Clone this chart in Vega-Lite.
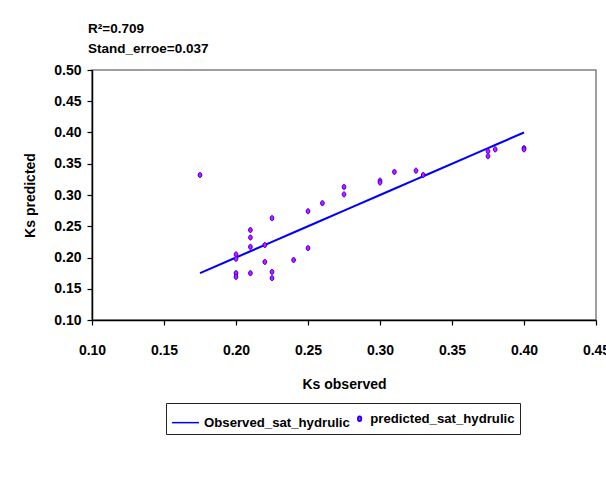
{
  "$schema": "https://vega.github.io/schema/vega-lite/v6.json",
  "width": 504,
  "height": 250,
  "autosize": {"type": "none"},
  "padding": {"left": 92, "top": 70, "right": 10, "bottom": 162},
  "background": "white",
  "title": {
    "text": ["R²=0.709", "Stand_erroe=0.037"],
    "anchor": "start",
    "frame": "group",
    "align": "left",
    "offset": 8,
    "dx": -4,
    "lineHeight": 20,
    "font": "Liberation Sans",
    "fontSize": 13.5,
    "fontWeight": "bold",
    "color": "black"
  },
  "config": {
    "view": {"stroke": "#808080", "strokeWidth": 1.5},
    "axis": {
      "grid": false,
      "domainColor": "black",
      "domainWidth": 1.5,
      "tickColor": "black",
      "tickWidth": 1.2,
      "tickSize": 5,
      "labelOverlap": false,
      "labelFont": "Liberation Sans",
      "labelFontSize": 14,
      "labelFontWeight": "bold",
      "labelColor": "black",
      "titleFont": "Liberation Sans",
      "titleFontSize": 14,
      "titleFontWeight": "bold",
      "titleColor": "black"
    },
    "legend": {
      "labelFont": "Liberation Sans",
      "labelFontSize": 13.2,
      "labelFontWeight": "bold",
      "labelColor": "black",
      "labelLimit": 300
    }
  },
  "data": {
    "values": [
      {"ks_observed": 0.175, "ks_predicted": 0.332},
      {"ks_observed": 0.20, "ks_predicted": 0.205},
      {"ks_observed": 0.20, "ks_predicted": 0.198},
      {"ks_observed": 0.20, "ks_predicted": 0.175},
      {"ks_observed": 0.20, "ks_predicted": 0.169},
      {"ks_observed": 0.21, "ks_predicted": 0.244},
      {"ks_observed": 0.21, "ks_predicted": 0.232},
      {"ks_observed": 0.21, "ks_predicted": 0.217},
      {"ks_observed": 0.21, "ks_predicted": 0.175},
      {"ks_observed": 0.22, "ks_predicted": 0.220},
      {"ks_observed": 0.22, "ks_predicted": 0.193},
      {"ks_observed": 0.225, "ks_predicted": 0.263},
      {"ks_observed": 0.225, "ks_predicted": 0.177},
      {"ks_observed": 0.225, "ks_predicted": 0.167},
      {"ks_observed": 0.24, "ks_predicted": 0.196},
      {"ks_observed": 0.25, "ks_predicted": 0.274},
      {"ks_observed": 0.25, "ks_predicted": 0.215},
      {"ks_observed": 0.26, "ks_predicted": 0.287},
      {"ks_observed": 0.275, "ks_predicted": 0.313},
      {"ks_observed": 0.275, "ks_predicted": 0.301},
      {"ks_observed": 0.30, "ks_predicted": 0.323},
      {"ks_observed": 0.30, "ks_predicted": 0.320},
      {"ks_observed": 0.31, "ks_predicted": 0.337},
      {"ks_observed": 0.325, "ks_predicted": 0.339},
      {"ks_observed": 0.33, "ks_predicted": 0.332},
      {"ks_observed": 0.375, "ks_predicted": 0.370},
      {"ks_observed": 0.375, "ks_predicted": 0.362},
      {"ks_observed": 0.38, "ks_predicted": 0.373},
      {"ks_observed": 0.40, "ks_predicted": 0.375},
      {"ks_observed": 0.40, "ks_predicted": 0.373}
    ]
  },
  "encoding": {
    "x": {
      "field": "ks_observed",
      "type": "quantitative",
      "title": "Ks observed",
      "scale": {"domain": [0.10, 0.45], "nice": false, "zero": false},
      "axis": {"values": [0.10, 0.15, 0.20, 0.25, 0.30, 0.35, 0.40, 0.45], "format": ".2f", "labelPadding": 18, "titlePadding": 20, "labelFlush": false}
    }
  },
  "layer": [
    {
      "transform": [{"calculate": "'Observed_sat_hydrulic'", "as": "series"}],
      "mark": {"type": "line", "strokeWidth": 2},
      "encoding": {
        "y": {
          "field": "ks_observed",
          "type": "quantitative",
          "title": "Ks predicted",
          "scale": {"domain": [0.10, 0.50], "nice": false, "zero": false},
          "axis": {"values": [0.10, 0.15, 0.20, 0.25, 0.30, 0.35, 0.40, 0.45, 0.50], "format": ".2f", "labelPadding": 6, "titlePadding": 16, "labelFlush": false, "labelOverlap": false}
        },
        "stroke": {
          "field": "series",
          "type": "nominal",
          "title": null,
          "scale": {"domain": ["Observed_sat_hydrulic", "predicted_sat_hydrulic"], "range": ["#0000FF", "#0000FF"]},
          "legend": {"orient": "none", "legendX": 74, "legendY": 333, "direction": "horizontal", "strokeColor": "#222222", "padding": 5, "symbolStrokeWidth": 1.5, "labelOffset": 4, "columnPadding": 3}
        }
      }
    },
    {
      "transform": [{"calculate": "'predicted_sat_hydrulic'", "as": "series"}],
      "mark": {"type": "point", "filled": true, "strokeWidth": 1, "opacity": 1},
      "encoding": {
        "y": {
          "field": "ks_predicted",
          "type": "quantitative",
          "title": "Ks predicted",
          "scale": {"domain": [0.10, 0.50], "nice": false, "zero": false},
          "axis": {"values": [0.10, 0.15, 0.20, 0.25, 0.30, 0.35, 0.40, 0.45, 0.50], "format": ".2f", "labelPadding": 6, "titlePadding": 16, "labelFlush": false, "labelOverlap": false}
        },
        "stroke": {"field": "series", "type": "nominal", "title": null},
        "fill": {
          "field": "series",
          "type": "nominal",
          "title": null,
          "scale": {"domain": ["Observed_sat_hydrulic", "predicted_sat_hydrulic"], "range": ["#0000FF", "#FF00FF"]}
        },
        "shape": {
          "field": "series",
          "type": "nominal",
          "title": null,
          "scale": {"domain": ["Observed_sat_hydrulic", "predicted_sat_hydrulic"], "range": ["stroke", "M0,-1A0.72,1 0 1,1 0,1A0.72,1 0 1,1 0,-1Z"]}
        },
        "size": {
          "field": "series",
          "type": "nominal",
          "title": null,
          "scale": {"domain": ["Observed_sat_hydrulic", "predicted_sat_hydrulic"], "range": [729, 25]}
        }
      }
    }
  ]
}
